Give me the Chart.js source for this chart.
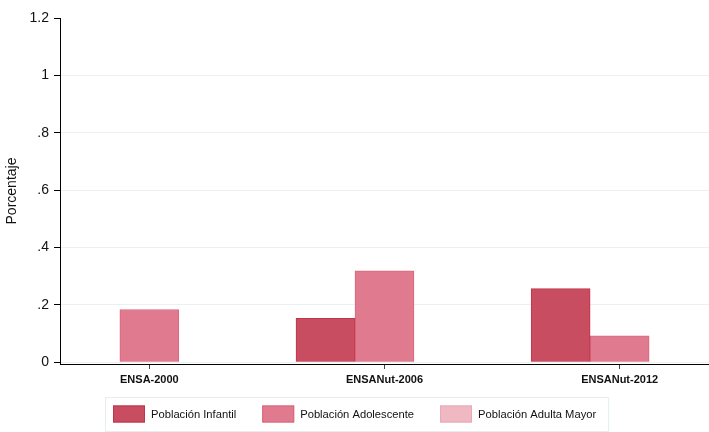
<!DOCTYPE html>
<html>
<head>
<meta charset="utf-8">
<script src="https://cdn.jsdelivr.net/npm/chart.js@4.4.1/dist/chart.umd.min.js"></script>
<style>
  html, body { margin: 0; padding: 0; background: #fff; }
  #wrap { width: 709px; height: 432px; }
</style>
</head>
<body>
<div id="wrap"><canvas id="grafica"></canvas></div>
<script>
const categorias = ["ENSA-2000", "ENSANut-2006", "ENSANut-2012"];
// no bar is drawn where the survey has no value
const infantil = [null, 0.153, 0.257];
const adolescente = [0.184, 0.319, 0.092];
const adultaMayor = [null, null, null];
const yTicks = [0, 0.2, 0.4, 0.6, 0.8, 1, 1.2];

const fuente = "'Liberation Sans', Arial, Helvetica, sans-serif";

function puntos(arr) {
  return arr.map((v, i) => ({ x: i, y: v }));
}

function fmtStata(v) {
  if (v === 0) return "0";
  let s = String(Math.round(v * 10) / 10);
  return s.startsWith("0.") ? s.slice(1) : s;
}

// legend drawn in a box like the original
const leyendaCaja = {
  id: "leyendaCaja",
  afterDraw(chart) {
    const ctx = chart.ctx;
    const ds = chart.data.datasets;
    ctx.save();
    ctx.font = "11.2px " + fuente;
    const sw = 32, sh = 17, gapTxt = 6, gap = 26;
    let total = 0;
    const anchos = ds.map(d => ctx.measureText(d.label).width);
    anchos.forEach((w, i) => { total += sw + gapTxt + w + (i < ds.length - 1 ? gap : 0); });
    let x = Math.round((chart.width - total) / 2);
    const cy = chart.height - 18;
    ctx.strokeStyle = "#e6eef0";
    ctx.lineWidth = 1;
    ctx.strokeRect(x - 8 + 0.5, cy - 17 + 0.5, total + 20, 34);
    ds.forEach((d, i) => {
      ctx.fillStyle = d.backgroundColor;
      ctx.fillRect(x, cy - sh / 2, sw, sh);
      ctx.strokeStyle = d.borderColor;
      ctx.strokeRect(x + 0.5, cy - sh / 2 + 0.5, sw - 1, sh - 1);
      ctx.fillStyle = "#111";
      ctx.textBaseline = "middle";
      ctx.textAlign = "left";
      ctx.fillText(d.label, x + sw + gapTxt, cy + 1);
      x += sw + gapTxt + anchos[i] + gap;
    });
    ctx.restore();
  }
};

new Chart(document.getElementById("grafica"), {
  type: "bar",
  data: {
    datasets: [
      {
        label: "Población Infantil",
        data: puntos(infantil),
        backgroundColor: "#c94d60",
        borderColor: "#c0354c",
        borderWidth: 1,
        barThickness: 59,
      },
      {
        label: "Población Adolescente",
        data: puntos(adolescente),
        backgroundColor: "#e07a8e",
        borderColor: "#d9667d",
        borderWidth: 1,
        barThickness: 59,
      },
      {
        label: "Población Adulta Mayor",
        data: puntos(adultaMayor),
        backgroundColor: "#f0b8c2",
        borderColor: "#e9a9b5",
        borderWidth: 1,
        barThickness: 59,
      },
    ],
  },
  options: {
    responsive: true,
    maintainAspectRatio: false,
    animation: false,
    layout: { padding: { top: 18, right: 0, bottom: 41, left: 0 } },
    plugins: {
      legend: { display: false },
      tooltip: { enabled: false },
    },
    scales: {
      x: {
        type: "linear",
        offset: false,
        min: -0.38,
        max: 2.38,
        afterBuildTicks: scale => { scale.ticks = categorias.map((c, i) => ({ value: i })); },
        afterFit: scale => { scale.height = 27; },
        border: { color: "#000", width: 1 },
        grid: { offset: false, drawOnChartArea: false, drawTicks: true, tickLength: 5, tickColor: "#444" },
        ticks: {
          padding: 4,
          color: "#111",
          font: { family: fuente, size: 11, weight: "bold" },
          maxRotation: 0,
          callback: v => categorias[v],
        },
      },
      y: {
        min: -0.006,
        max: 1.2,
        afterBuildTicks: scale => { scale.ticks = yTicks.map(v => ({ value: v })); },
        afterFit: scale => { scale.width = 60; },
        border: { color: "#000", width: 1 },
        grid: {
          color: ctx => (ctx.tick && ctx.tick.value === 1.2 ? "rgba(0,0,0,0)" : "#e9f1f2"),
          tickColor: "#000",
          tickLength: 6,
        },
        ticks: {
          padding: 5,
          color: "#111",
          font: { family: fuente, size: 14 },
          callback: v => fmtStata(v),
        },
        title: {
          display: true,
          text: "Porcentaje",
          color: "#111",
          font: { family: fuente, size: 14 },
          padding: { top: 4, bottom: 4 },
        },
      },
    },
  },
  plugins: [leyendaCaja],
});
</script>
</body>
</html>
